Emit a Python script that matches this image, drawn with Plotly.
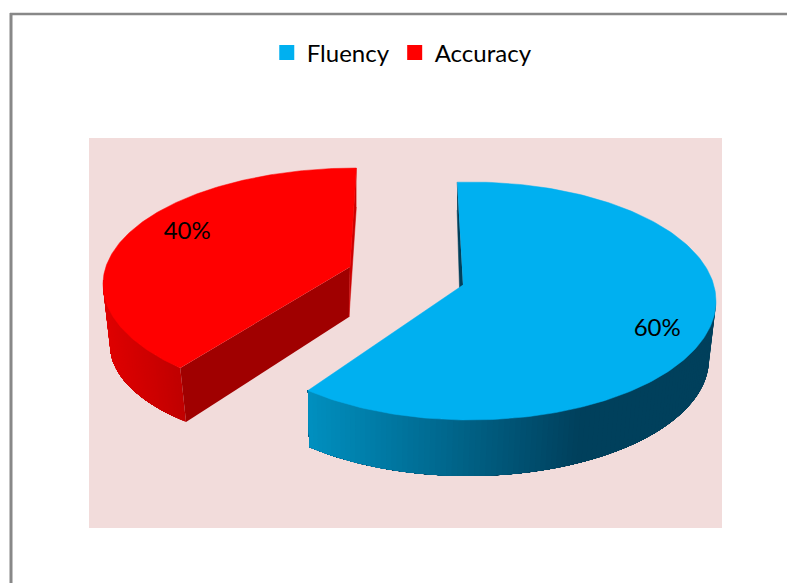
import numpy as np
import plotly.graph_objects as go

categories = ["Fluency", "Accuracy"]
values = [60, 40]
top_colors = ["#00B0F0", "#FF0000"]
label_texts = ["60%", "40%"]

# Projection of each exploded slice (perspective view, in axis units)
GEOM = [
    dict(start=-3, warp=1.038, top=(470, 301, 246, 119), bot=(468, 359, 241, 117),
         apex=(463, 285), apex_low=(459.5, 288), sliver_drop=28, wall_range=(88, None),
         stops=[(0, "#0090C0"), (0.78, "#00405C"), (1, "#00405C")],
         sliver="#00405C", front=None, label_theta=108),
    dict(start=224, warp=0.945, top=(356, 284.3, 253, 116.3), bot=(359, 345, 249, 107),
         apex=(350, 267), apex_low=(349, 317), sliver_drop=39, wall_range=(None, 272),
         stops=[(0, "#C00000"), (0.35, "#CC0000"), (1, "#E00000")],
         sliver="#CC0000", front="#A00000", label_theta=303.5),
]
LABEL_RADIUS = 0.8


def ell(e, t):
    t = np.radians(t)
    return e[0] + e[2] * np.sin(t), e[1] - e[3] * np.cos(t)


def hex_rgb(h):
    return np.array([int(h[i:i + 2], 16) for i in (1, 3, 5)], float)


def ramp(stops, f):
    for (a, ca), (b, cb) in zip(stops, stops[1:]):
        if f <= b:
            k = (f - a) / (b - a)
            c = hex_rgb(ca) * (1 - k) + hex_rgb(cb) * k
            return "rgb(%d,%d,%d)" % tuple(c)
    return stops[-1][1]


def poly(xs, ys, color, width=0.0):
    return go.Scatter(x=list(xs), y=list(ys), mode="lines", fill="toself", fillcolor=color,
                      line=dict(color=color, width=width), hoverinfo="skip", showlegend=False)


fig = go.Figure()

for val, col, g in zip(values, top_colors, GEOM):
    t0 = g["start"]
    t1 = t0 + val * 3.6 * g["warp"]
    apex, low = g["apex"], g["apex_low"]

    # Curved outer wall, painted as overlapping bands so no seams show
    wa = g["wall_range"][0] if g["wall_range"][0] is not None else t0
    wb = g["wall_range"][1] if g["wall_range"][1] is not None else t1
    edges = np.linspace(wa, wb, 101)
    if g["front"] is None:
        xl, xr = ell(g["top"], t1)[0], 582
        def frac(x):
            return float(np.clip((x - xl) / (xr - xl) * 0.78, 0, 1))
    else:
        xl, xr = ell(g["top"], t0)[0], ell(g["top"], wb)[0]
        def frac(x):
            return float(np.clip((x - xl) / (xr - xl), 0, 1))
    for a, b in zip(edges, edges[1:]):
        ts = np.linspace(a, wb, 50)
        xt, yt = ell(g["top"], ts)
        xb, yb = ell(g["bot"], ts)
        fig.add_trace(poly(list(xt) + list(xb[::-1]), list(yt) + list(yb[::-1]),
                           ramp(g["stops"], frac(ell(g["top"], (a + b) / 2)[0]))))

    # Flat cut walls
    if g["front"] is not None:
        xa, ya = ell(g["top"], t0)
        xc, yc = ell(g["bot"], t0)
        fig.add_trace(poly([apex[0], xa, xc, low[0]], [apex[1], ya, yc, low[1]], g["front"]))
    xe, ye = ell(g["top"], t1 if g["front"] is not None else t0)
    fig.add_trace(poly([xe, apex[0], low[0], xe], [ye, apex[1], low[1], ye + g["sliver_drop"]],
                       g["sliver"], 0.5))

    # Top face
    ts = np.linspace(t0, t1, 200)
    xs, ys = ell(g["top"], ts)
    fig.add_trace(poly(list(xs) + [apex[0]], list(ys) + [apex[1]], col, 0.5))

# Data labels
lx, ly = zip(*[ell(g["top"], g["label_theta"]) for g in GEOM])
lx = [g["top"][0] + (x - g["top"][0]) * LABEL_RADIUS for x, g in zip(lx, GEOM)]
ly = [g["top"][1] + (y - g["top"][1]) * LABEL_RADIUS for y, g in zip(ly, GEOM)]
fig.add_trace(go.Scatter(x=lx, y=ly, mode="text", text=label_texts, textposition="middle center",
                         textfont=dict(family="Lato", size=24, color="black"),
                         hoverinfo="skip", showlegend=False))

# Legend entries
for name, col in zip(categories, top_colors):
    fig.add_trace(go.Scatter(x=[None], y=[None], mode="markers", name=name,
                             marker=dict(symbol="square", size=15, color=col)))

fig.update_layout(
    width=787, height=583, margin=dict(l=0, r=0, t=0, b=0),
    paper_bgcolor="white", plot_bgcolor="#F2DCDB",
    xaxis=dict(domain=[89 / 787, 722 / 787], range=[89, 722], visible=False),
    yaxis=dict(domain=[1 - 528 / 583, 1 - 138 / 583], range=[528, 138], visible=False),
    legend=dict(orientation="h", x=0.5105, xanchor="center", y=1 - 53 / 583, yanchor="middle",
                font=dict(family="Lato", size=24, color="black"), bgcolor="rgba(0,0,0,0)",
                itemclick=False, itemdoubleclick=False),
    shapes=[
        dict(type="line", xref="paper", yref="paper", x0=11 / 787, x1=11 / 787, y0=0, y1=1 - 13 / 583,
             line=dict(color="#888888", width=3)),
        dict(type="line", xref="paper", yref="paper", x0=10 / 787, x1=1, y0=1 - 14 / 583, y1=1 - 14 / 583,
             line=dict(color="#888888", width=2.5)),
    ],
)

fig.write_html("out.html", config=dict(displayModeBar=False),
               post_script="document.body.style.margin='0';document.body.style.overflow='hidden';")
